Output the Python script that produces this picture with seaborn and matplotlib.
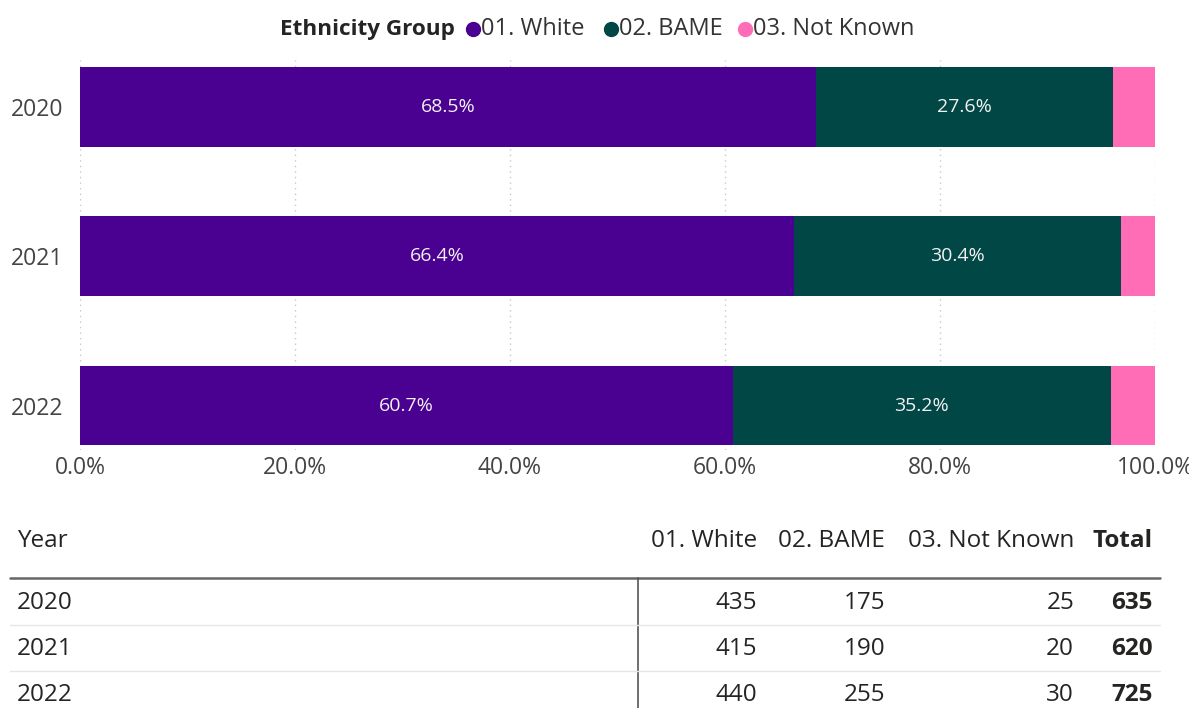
import numpy as np
import pandas as pd
import matplotlib
matplotlib.use("Agg")
import matplotlib.pyplot as plt
from matplotlib.lines import Line2D
import seaborn as sns

# ---- data ----
years = ["2020", "2021", "2022"]
groups = ["01. White", "02. BAME", "03. Not Known"]
pct_white = [68.5, 66.4, 60.7]
pct_bame = [27.6, 30.4, 35.2]
pct_not_known = [3.9, 3.2, 4.1]
count_white = [435, 415, 440]
count_bame = [175, 190, 255]
count_not_known = [25, 20, 30]
count_total = [635, 620, 725]
x_ticks = [0, 20, 40, 60, 80, 100]

colors = {"01. White": "#4A0091", "02. BAME": "#004745", "03. Not Known": "#FF6DB6"}

sns.set_theme(style="white")
plt.rcParams["font.family"] = ["Open Sans", "DejaVu Sans"]

W, H = 1189, 708
fig = plt.figure(figsize=(W / 100, H / 100), dpi=100)

def fx(px):
    return px / W

def fy(py):
    return 1 - py / H

# ---- stacked 100% bar chart ----
ax = fig.add_axes([fx(80), fy(450), fx(1155) - fx(80), fy(60) - fy(450)])

df = pd.DataFrame({"Year": years,
                   "White": pct_white,
                   "BAME": pct_bame,
                   "NotKnown": pct_not_known})
df["cum_white"] = df["White"]
df["cum_bame"] = df["White"] + df["BAME"]
df["cum_all"] = df["White"] + df["BAME"] + df["NotKnown"]

bar_w = 0.535
for col, grp in [("cum_all", "03. Not Known"), ("cum_bame", "02. BAME"), ("cum_white", "01. White")]:
    sns.barplot(data=df, y="Year", x=col, order=years, orient="h", color=colors[grp],
                width=bar_w, saturation=1, ax=ax, linewidth=0)

# segment labels
for i, row in df.iterrows():
    ax.text(row["White"] / 2, i, f"{row['White']:.1f}%", ha="center", va="center",
            color="#F2F2F2", fontsize=14)
    ax.text(row["White"] + row["BAME"] / 2, i, f"{row['BAME']:.1f}%", ha="center",
            va="center", color="#F2F2F2", fontsize=14)

ax.set_xlim(0, 100)
ax.set_ylim(2.298, -0.314)
ax.set_xticks(x_ticks)
ax.set_xticklabels([f"{t:.1f}%" for t in x_ticks], fontsize=16.5, color="#444444")
ax.set_yticks(range(len(years)))
ax.set_yticklabels(years, fontsize=16.5, color="#444444")
ax.tick_params(axis="x", length=0, pad=4)
ax.tick_params(axis="y", length=0, pad=12)
ax.set_xlabel("")
ax.set_ylabel("")
for s in ax.spines.values():
    s.set_visible(False)
ax.xaxis.grid(True, linestyle=(0, (1, 3)), color="#C8C8C8", linewidth=1)
ax.set_axisbelow(True)

# ---- legend ----
leg_y = 29
fig.text(fx(280), fy(leg_y), "Ethnicity Group", fontsize=16.2, fontweight="bold",
         color="#252423", ha="left", va="center")
legend_marker_x = [473, 611, 745]
legend_text_x = [481, 619, 753]
for g, mx, tx in zip(groups, legend_marker_x, legend_text_x):
    fig.add_artist(Line2D([fx(mx)], [fy(leg_y)], marker="o", linestyle="", markersize=10,
                          markerfacecolor=colors[g], markeredgecolor=colors[g]))
    fig.text(fx(tx), fy(leg_y), g, fontsize=17, color="#333333", ha="left", va="center")

# ---- summary table ----
tcolor = "#252423"
tsize = 17.5
col_right = [757, 885, 1074, 1153]
header_y = 541
row_ys = [603, 649, 695]

fig.text(fx(17), fy(header_y), "Year", fontsize=tsize, color=tcolor, ha="left", va="center")
for xr, lab in zip(col_right[:3], groups):
    fig.text(fx(xr), fy(header_y), lab, fontsize=tsize, color=tcolor, ha="right", va="center")
fig.text(fx(col_right[3]), fy(header_y), "Total", fontsize=tsize, color=tcolor,
         ha="right", va="center", fontweight="bold")

fig.add_artist(Line2D([fx(10), fx(1160)], [fy(578), fy(578)], color="#666666", linewidth=1.8))
fig.add_artist(Line2D([fx(638), fx(638)], [fy(578), fy(708)], color="#555555", linewidth=1.2))
for ly in [625, 671]:
    fig.add_artist(Line2D([fx(10), fx(1160)], [fy(ly), fy(ly)], color="#E6E6E6", linewidth=1))

for i, y in enumerate(row_ys):
    fig.text(fx(17), fy(y), years[i], fontsize=tsize, color=tcolor, ha="left", va="center")
    vals = [count_white[i], count_bame[i], count_not_known[i]]
    for xr, v in zip(col_right[:3], vals):
        fig.text(fx(xr), fy(y), str(v), fontsize=tsize, color=tcolor, ha="right", va="center")
    fig.text(fx(col_right[3]), fy(y), str(count_total[i]), fontsize=tsize, color=tcolor,
             ha="right", va="center", fontweight="bold")

fig.savefig("out.png", dpi=100, facecolor="white")
